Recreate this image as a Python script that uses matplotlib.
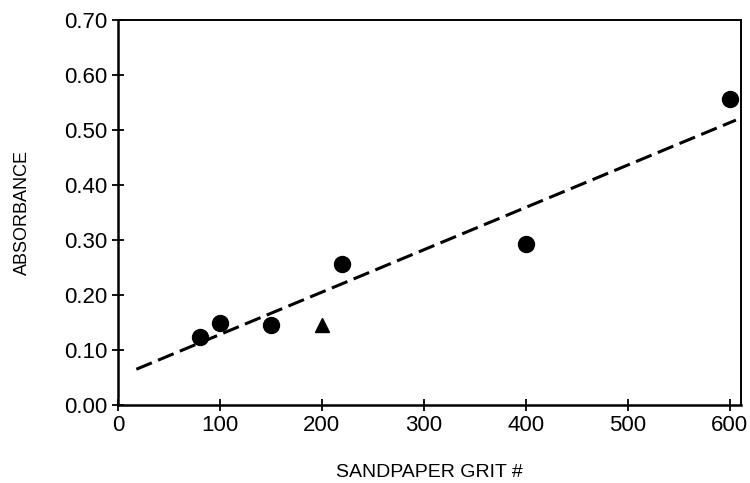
import matplotlib
matplotlib.use("Agg")
import matplotlib.pyplot as plt

# sandpaper grit vs absorbance
grit = [80, 100, 150, 220, 400, 600]
absorbance = [0.123, 0.149, 0.145, 0.256, 0.292, 0.556]

# separate sample plotted with a triangle
tri_grit = [200]
tri_abs = [0.146]

# fitted line endpoints
fit_x = [18, 606]
fit_y = [0.065, 0.518]

xticks = [0, 100, 200, 300, 400, 500, 600]
yticks = [0.0, 0.1, 0.2, 0.3, 0.4, 0.5, 0.6, 0.7]

plt.rcParams['font.family'] = ['Liberation Sans', 'DejaVu Sans']

fig = plt.figure(figsize=(7.5, 4.83), dpi=100)
ax = fig.add_axes([0.1573, 0.1615, 0.8307, 0.7971])

ax.plot(fit_x, fit_y, color='black', lw=2.2, linestyle=(0, (5.5, 2.2)))
ax.plot(grit, absorbance, 'o', color='black', markersize=11.5)
ax.plot(tri_grit, tri_abs, '^', color='black', markersize=10.5)

ax.set_xlim(0, 611)
ax.set_ylim(0, 0.70)
ax.set_xticks(xticks)
ax.set_xticklabels([str(t) for t in xticks])
ax.set_yticks(yticks)
ax.set_yticklabels(['%.2f' % t for t in yticks])
ax.tick_params(direction='inout', length=9, width=1.3, labelsize=16, pad=3)

for side in ['left', 'bottom']:
    ax.spines[side].set_linewidth(1.8)
for side in ['top', 'right']:
    ax.spines[side].set_linewidth(1.4)

ax.set_xlabel('SANDPAPER GRIT #', fontsize=14, labelpad=20)
ax.set_ylabel('ABSORBANCE', fontsize=13, labelpad=24)

fig.savefig('out.png', dpi=100)
